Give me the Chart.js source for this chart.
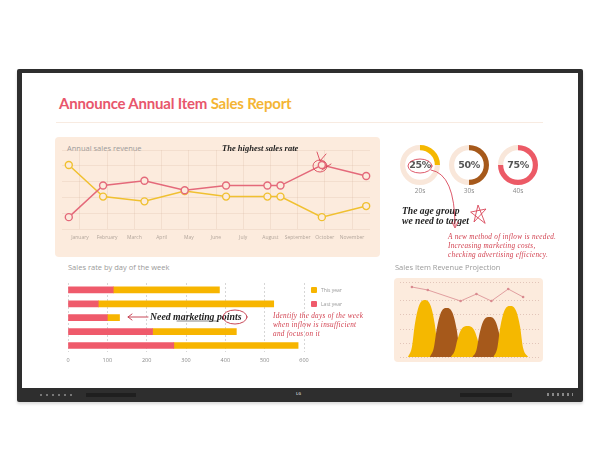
<!DOCTYPE html>
<html>
<head>
<meta charset="utf-8">
<script src="https://cdn.jsdelivr.net/npm/chart.js@4.4.0/dist/chart.umd.min.js"></script>
<style>
  html, body { margin: 0; padding: 0; background: #fff; }
  body { width: 600px; height: 450px; position: relative; overflow: hidden; font-family: "Open Sans", sans-serif; }
  .abs { position: absolute; }
  .bezel { left: 17px; top: 69px; width: 566px; height: 333px; background: #2e2e2e; border-radius: 2px; box-shadow: 0 2px 3px rgba(0,0,0,0.15); }
  .screen { left: 22px; top: 73px; width: 556px; height: 315px; background: #fff; }
  .title { left: 59px; top: 94px; font-family: Lato, sans-serif; font-weight: 700; font-size: 15px; color: #e8566c; white-space: nowrap; letter-spacing: -0.2px; }
  .title span { color: #f4b534; }
  .rule { left: 56px; top: 122px; width: 487px; height: 1px; background: #f8ebe1; }
  .panel { background: #fcebdd; border-radius: 4px; }
  .label { color: #9a9a9a; font-size: 7.5px; white-space: nowrap; }
  .hand { font-family: "Liberation Serif", serif; font-style: italic; font-weight: 700; color: #222; white-space: nowrap; }
  .note { font-family: "Liberation Serif", serif; font-style: italic; color: #d2404f; font-size: 7.2px; line-height: 9px; letter-spacing: 0.3px; white-space: nowrap; }
  .pct { font-family: "DejaVu Sans", sans-serif; font-weight: 700; font-size: 9.5px; color: #555; width: 40px; text-align: center; letter-spacing: -0.4px; }
  .age { color: #8a8a8a; font-size: 6.5px; width: 40px; text-align: center; }
  .legend { font-size: 5px; color: #999; }
  .sq { width: 6px; height: 6px; border-radius: 1px; }
  canvas { position: absolute; }
</style>
</head>
<body>
<div class="abs bezel"></div>
<div class="abs screen"></div>
<!-- bottom bezel details -->
<div class="abs" style="left:40px;top:394px;width:34px;height:2px;background:repeating-linear-gradient(90deg,#777 0 2px,transparent 2px 6px);"></div>
<div class="abs" style="left:86px;top:393px;width:50px;height:4px;background:#1f1f1f;"></div>
<div class="abs" style="left:460px;top:393px;width:52px;height:4px;background:#1f1f1f;"></div>
<div class="abs" style="left:547px;top:393px;width:26px;height:3px;background:repeating-linear-gradient(90deg,#888 0 2px,transparent 2px 5px);"></div>
<div class="abs" style="left:296px;top:391px;font-size:4px;color:#bbb;font-weight:700;">LG</div>

<div class="abs title">Announce Annual Item <span>Sales Report</span></div>
<div class="abs rule"></div>

<!-- annual sales panel -->
<div class="abs panel" style="left:55px;top:137px;width:325px;height:120px;"></div>
<div class="abs label" style="left:67px;top:143px;">Annual sales revenue</div>
<canvas id="lineChart" width="325" height="120" style="left:55px;top:137px;"></canvas>
<div class="abs hand" style="left:222px;top:143px;font-size:8.5px;">The highest sales rate</div>

<!-- age doughnuts -->
<canvas id="donut0" width="40" height="40" style="left:400px;top:145px;"></canvas>
<canvas id="donut1" width="40" height="40" style="left:449px;top:145px;"></canvas>
<canvas id="donut2" width="40" height="40" style="left:498px;top:145px;"></canvas>
<div id="ageText"></div>
<div class="abs hand" style="left:402px;top:206px;font-size:9.6px;line-height:10px;">The age group<br>we need to target</div>
<div class="abs note" style="left:448px;top:233px;">A new method of inflow is needed.<br>Increasing marketing costs,<br>checking advertising efficiency.</div>

<!-- weekday bars -->
<div class="abs label" style="left:68px;top:262px;">Sales rate by day of the week</div>
<canvas id="barChart" width="260" height="97" style="left:55px;top:278px;"></canvas>
<div class="abs sq" style="left:311px;top:287px;background:#f7b500;"></div>
<div class="abs legend" style="left:321px;top:287px;">This year</div>
<div class="abs sq" style="left:311px;top:301px;background:#ef5a6b;"></div>
<div class="abs legend" style="left:321px;top:301px;">Last year</div>
<div class="abs hand" style="left:150px;top:311px;font-size:9.8px;">Need marketing points</div>
<div class="abs note" style="left:273px;top:312px;">Identify the days of the week<br>when inflow is insufficient<br>and focus on it</div>

<!-- projection -->
<div class="abs label" style="left:395px;top:262px;">Sales Item Revenue Projection</div>
<div class="abs panel" style="left:394px;top:278px;width:149px;height:84px;"></div>
<canvas id="projChart" width="149" height="84" style="left:394px;top:278px;"></canvas>

<!-- pen marks -->
<svg class="abs" width="600" height="450" style="left:0;top:0;pointer-events:none;" fill="none" stroke="#d9475a" stroke-width="0.9" stroke-linecap="round">
  <ellipse cx="320" cy="166" rx="7" ry="6"/>
  <path d="M317 152 L320 161 L326 154"/>
  <path d="M322 170 L331 164"/>
  <ellipse cx="420" cy="166" rx="12" ry="7"/>
  <path d="M431 170 Q455 174 455 226"/>
  <path d="M452 222 L455 228 L458 222"/>
  <path d="M471 212 L486 209 L474 222 L478 205 L485 223 Z"/>
  <ellipse cx="235" cy="317" rx="12" ry="7" stroke="#c23345"/>
  <path d="M148 317 L128 317 M132 314 L128 317 L132 320" stroke="#c23345"/>
  <path d="M177 321 L217 321" stroke="#333" stroke-width="0.6"/>
</svg>

<script>
// ---- data ----
const months = ['January', 'February', 'March', 'April', 'May', 'June', 'July', 'August', 'September', 'October', 'November'];
const pointPos = [-0.41, 0.85, 2.37, 3.85, 5.37, 6.89, 7.37, 8.89, 10.52];
const revenueYellow = [81, 41, 35, 48, 41, 41, 41, 15, 29];
const revenueRed = [15, 55, 61, 49, 55, 55, 55, 81, 67];

const ageGroups = ['20s', '30s', '40s'];
const agePercent = [25, 50, 75];
const ageColors = ['#f5b800', '#a6591b', '#ec5a66'];

const days = ['Mon', 'Tue', 'Wed', 'Thu', 'Fri'];
const lastYear = [115, 77, 100, 215, 269];
const thisYear = [270, 446, 31, 213, 316];
const barTicks = [0, 100, 200, 300, 400, 500, 600];

// projection humps: [position, height]
const hump1 = [[8, 0], [12, 10], [15, 33], [19, 51], [25, 57], [31, 51], [35, 33], [38, 10], [42, 0]];
const hump2 = [[30, 0], [34, 9], [37, 28], [41, 44], [47, 49], [53, 44], [57, 28], [60, 9], [64, 0]];
const hump3 = [[51, 0], [55, 6], [58, 18], [62, 28], [68, 31], [74, 28], [78, 18], [81, 6], [85, 0]];
const hump4 = [[73, 0], [77, 7], [80, 23], [84, 36], [90, 40], [96, 36], [100, 23], [103, 7], [107, 0]];
const hump5 = [[94, 0], [98, 9], [101, 30], [105, 46], [111, 51], [117, 46], [121, 30], [124, 9], [129, 0]];
const projLine = [[12, 70], [28, 67], [61, 56], [77, 63], [92, 56], [109, 68], [124, 60]];

Chart.defaults.animation = false;
Chart.defaults.responsive = false;
Chart.defaults.devicePixelRatio = 1;
Chart.defaults.font.family = '"Open Sans", sans-serif';
Chart.defaults.plugins.legend.display = false;
Chart.defaults.plugins.tooltip.enabled = false;

const toXY = (xs, ys) => xs.map((x, i) => ({ x: x, y: ys[i] }));
const pairs = arr => arr.map(p => ({ x: p[0], y: p[1] }));

// Annual sales revenue
new Chart(document.getElementById('lineChart'), {
  type: 'line',
  data: {
    datasets: [
      { data: toXY(pointPos, revenueRed), borderColor: '#e4697a' },
      { data: toXY(pointPos, revenueYellow), borderColor: '#f0c030' }
    ].map(ds => Object.assign(ds, {
      borderWidth: 1.5,
      pointRadius: 3.5,
      pointBorderWidth: 1.4,
      pointBackgroundColor: '#fcebdd',
      pointBorderColor: ds.borderColor,
      clip: false
    }))
  },
  options: {
    layout: { padding: { left: 7, right: 10, top: 13, bottom: 10 } },
    scales: {
      x: {
        type: 'linear', min: -0.66, max: 10.66,
        border: { display: false },
        grid: { color: 'rgba(215,185,165,0.25)', drawTicks: false },
        ticks: {
          stepSize: 1, includeBounds: false, autoSkip: false, maxRotation: 0, padding: 6,
          color: '#b3a69c', font: { size: 5 },
          callback: v => Number.isInteger(v) ? months[v] : ''
        }
      },
      y: {
        min: 0, max: 100,
        border: { display: false },
        grid: { color: 'rgba(215,185,165,0.25)', drawTicks: false },
        ticks: { display: false, stepSize: 20 }
      }
    }
  }
});

// Age group doughnuts
const ageText = document.getElementById('ageText');
agePercent.forEach((p, i) => {
  new Chart(document.getElementById('donut' + i), {
    type: 'doughnut',
    data: { datasets: [{ data: [p, 100 - p], backgroundColor: [ageColors[i], '#f9e7da'], borderWidth: 0 }] },
    options: { cutout: '74%' }
  });
  const left = 400 + i * 49;
  ageText.insertAdjacentHTML('beforeend',
    `<div class="abs pct" style="left:${left}px;top:159px;">${p}%</div>` +
    `<div class="abs age" style="left:${left}px;top:186px;">${ageGroups[i]}</div>`);
});

// Sales rate by day of the week
new Chart(document.getElementById('barChart'), {
  type: 'bar',
  data: {
    labels: days,
    datasets: [
      { label: 'Last year', data: lastYear, backgroundColor: '#ef5a6b' },
      { label: 'This year', data: thisYear, backgroundColor: '#f7b500' }
    ]
  },
  options: {
    indexAxis: 'y',
    barThickness: 6,
    layout: { padding: { left: 13, right: 11, top: 5, bottom: 6 } },
    scales: {
      x: {
        stacked: true, min: 0, max: 600,
        border: { display: false, dash: [2, 2] },
        grid: { color: '#d6d6d6', drawTicks: false },
        ticks: { stepSize: 100, padding: 5, color: '#888', font: { size: 5.5 },
          callback: v => barTicks.includes(v) ? v : '' }
      },
      y: { stacked: true, display: false }
    }
  }
});

// Sales Item Revenue Projection
const humps = [hump1, hump2, hump3, hump4, hump5];
const humpColors = ['#f5b800', '#a6591b', '#f5b800', '#a6591b', '#f5b800'];
const humpSets = humps.map((h, i) => ({
  data: pairs(h),
  backgroundColor: humpColors[i],
  borderWidth: 0,
  pointRadius: 0,
  fill: 'origin',
  cubicInterpolationMode: 'monotone',
  order: 10 - i
}));
new Chart(document.getElementById('projChart'), {
  type: 'line',
  data: {
    datasets: [{
      data: pairs(projLine), borderColor: '#d98a8f', borderWidth: 0.8,
      pointRadius: 1.3, pointBackgroundColor: '#d98a8f', pointBorderWidth: 0, order: 0
    }].concat(humpSets)
  },
  options: {
    layout: { padding: { left: 6, right: 3, top: 4, bottom: 5 } },
    scales: {
      x: { type: 'linear', min: 0, max: 140, display: false },
      y: {
        min: 0, max: 75,
        border: { display: false, dash: [1, 2] },
        grid: { color: 'rgba(200,160,150,0.5)', drawTicks: false },
        ticks: { display: false, stepSize: 14 }
      }
    }
  }
});
</script>
</body>
</html>
